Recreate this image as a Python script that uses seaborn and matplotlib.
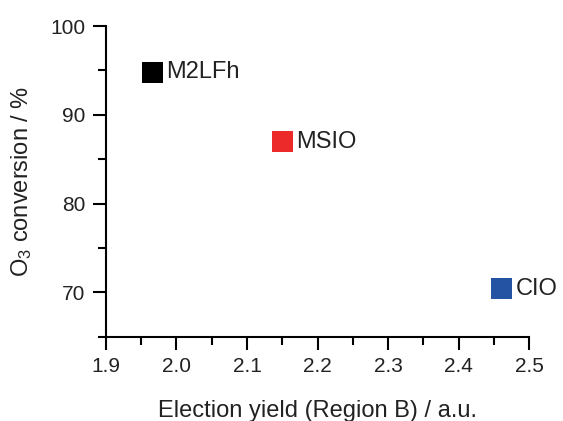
import matplotlib
matplotlib.use('Agg')
import matplotlib.pyplot as plt
import seaborn as sns
import pandas as pd
from matplotlib.ticker import MultipleLocator, FormatStrFormatter

# data
samples = ['M2LFh', 'MSIO', 'CIO']
yield_b = [1.966, 2.150, 2.461]
conversion = [94.8, 87.0, 70.4]
colors = ['#000000', '#ec2a2a', '#2553a3']

df = pd.DataFrame({'sample': samples, 'yield': yield_b, 'conv': conversion})

sns.set_style('ticks')
plt.rcParams['font.family'] = ['Liberation Sans', 'DejaVu Sans']
plt.rcParams['mathtext.fontset'] = 'custom'
plt.rcParams['mathtext.rm'] = 'Liberation Sans'
plt.rcParams['mathtext.it'] = 'Liberation Sans'

fig = plt.figure(figsize=(5.63, 4.21), dpi=100)
ax = fig.add_axes([0.188, 0.2, 0.752, 0.738])

sns.scatterplot(data=df, x='yield', y='conv', hue='sample', palette=colors,
                marker='s', s=230, edgecolor='none', legend=False, ax=ax)

for name, xv, yv in zip(samples, yield_b, conversion):
    ax.annotate(name, (xv, yv), xytext=(10, 0), textcoords='offset points',
                fontsize=17, va='center', ha='left', color='#222222')

ax.set_xlim(1.9, 2.5)
ax.set_ylim(65, 100)
ax.xaxis.set_major_locator(MultipleLocator(0.1))
ax.xaxis.set_minor_locator(MultipleLocator(0.05))
ax.xaxis.set_major_formatter(FormatStrFormatter('%.1f'))
ax.set_yticks([70, 80, 90, 100])
ax.yaxis.set_minor_locator(MultipleLocator(5))

for side in ['top', 'right']:
    ax.spines[side].set_visible(False)
for side in ['left', 'bottom']:
    ax.spines[side].set_linewidth(1.5)
    ax.spines[side].set_color('black')
ax.tick_params(which='major', length=9.5, width=1.5, labelsize=15, colors='black', pad=5)
ax.tick_params(which='minor', length=5.5, width=1.5, colors='black')
ax.tick_params(labelcolor='#222222')

ax.set_xlabel('Election yield (Region B) / a.u.', fontsize=17, color='#222222', labelpad=17)
ax.set_ylabel('O$_3$ conversion / %', fontsize=17, color='#222222', labelpad=12)

fig.savefig('out.png', dpi=100)
